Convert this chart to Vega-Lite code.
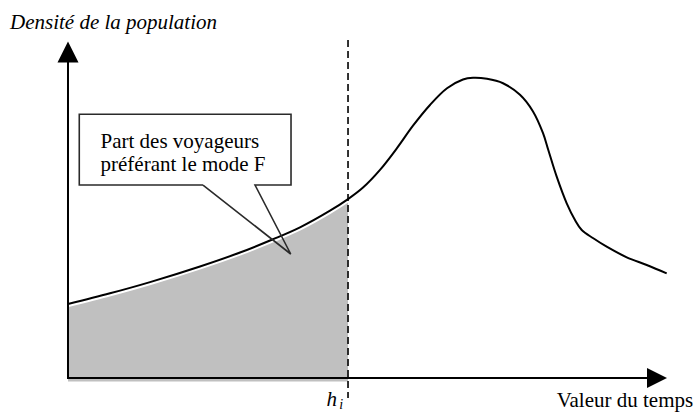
{
  "$schema": "https://vega.github.io/schema/vega-lite/v6.json",
  "width": 697,
  "height": 412,
  "padding": 0,
  "autosize": {"type": "none"},
  "background": "white",
  "config": {"view": {"stroke": null}},
  "datasets": {
    "curve": [
      {"x": 0, "y": 21.76}, {"x": 7, "y": 24.9}, {"x": 13.67, "y": 28.2}, {"x": 22, "y": 32.8},
      {"x": 28.67, "y": 36.9}, {"x": 34.17, "y": 40.8}, {"x": 38.67, "y": 44.3}, {"x": 43.67, "y": 49.2},
      {"x": 46.67, "y": 52.6}, {"x": 49.17, "y": 56.0}, {"x": 52, "y": 61.2}, {"x": 54.83, "y": 67.6},
      {"x": 57.5, "y": 74.2}, {"x": 60.33, "y": 80.3}, {"x": 63.17, "y": 85.2}, {"x": 65.83, "y": 87.8},
      {"x": 67.5, "y": 88.3}, {"x": 69.83, "y": 88.0}, {"x": 72.5, "y": 86.7}, {"x": 75.33, "y": 83.3},
      {"x": 77.5, "y": 78.4}, {"x": 79.17, "y": 72.0}, {"x": 80.05, "y": 67.06}, {"x": 81.45, "y": 59.21},
      {"x": 83.12, "y": 51.38}, {"x": 84.5, "y": 46.47}, {"x": 85.62, "y": 43.53}, {"x": 87.55, "y": 41.09},
      {"x": 89.78, "y": 38.62}, {"x": 93.12, "y": 35.5}, {"x": 96.45, "y": 33.24}, {"x": 99.78, "y": 30.79}
    ],
    "axes": [
      {"x": 0, "y": 0, "x2": 98.17, "y2": 0},
      {"x": 0, "y": -0.3, "x2": 0, "y2": 95.88}
    ],
    "threshold": [
      {"x": 46.67, "y": 99.41, "x2": 46.67, "y2": -5.88}
    ],
    "arrowY": [{"x": 0, "y": 95.88}],
    "arrowX": [{"x": 98.17, "y": 0}],
    "callout": [
      {"o": 1, "x": 22.5, "y": 56.76}, {"o": 2, "x": 1.88, "y": 56.76}, {"o": 3, "x": 1.88, "y": 77.56},
      {"o": 4, "x": 37.17, "y": 77.56}, {"o": 5, "x": 37.17, "y": 56.76}, {"o": 6, "x": 31.17, "y": 56.76},
      {"o": 7, "x": 37.12, "y": 36.47}, {"o": 8, "x": 22.5, "y": 56.76}
    ],
    "labels": [
      {"x": 5.42, "y": 67.65, "text": "Part des voyageurs"},
      {"x": 5.42, "y": 60.97, "text": "préférant le mode F"},
      {"x": 81.45, "y": -8.53, "text": "Valeur du temps"}
    ],
    "italicLabels": [
      {"x": -9.67, "y": 102.65, "text": "Densité de la population"},
      {"x": 43.08, "y": -8.24, "text": "h"}
    ],
    "subLabels": [
      {"x": 45.2, "y": -9.12, "text": "i"}
    ]
  },
  "encoding": {
    "x": {"field": "x", "type": "quantitative", "scale": {"domain": [-11.333, 104.833], "nice": false, "zero": false}, "axis": null},
    "y": {"field": "y", "type": "quantitative", "scale": {"domain": [-10, 111.176], "nice": false, "zero": false}, "axis": null}
  },
  "layer": [
    {
      "data": {"name": "curve"},
      "transform": [{"filter": "datum.x <= 46.67"}],
      "mark": {"type": "area", "color": "#c0c0c0", "interpolate": "catmull-rom", "opacity": 1},
      "encoding": {"y2": {"datum": -1}}
    },
    {
      "data": {"name": "curve"},
      "mark": {"type": "line", "color": "white", "strokeWidth": 6, "interpolate": "catmull-rom"},
      "encoding": {}
    },
    {
      "data": {"name": "curve"},
      "mark": {"type": "line", "color": "black", "strokeWidth": 2, "interpolate": "catmull-rom"},
      "encoding": {}
    },
    {
      "data": {"name": "axes"},
      "mark": {"type": "rule", "color": "black", "strokeWidth": 2},
      "encoding": {"x2": {"field": "x2"}, "y2": {"field": "y2"}}
    },
    {
      "data": {"name": "threshold"},
      "mark": {"type": "rule", "color": "black", "strokeWidth": 1.6, "strokeDash": [7, 4]},
      "encoding": {"x2": {"field": "x2"}, "y2": {"field": "y2"}}
    },
    {
      "data": {"name": "arrowY"},
      "mark": {"type": "point", "shape": "M0,-1L1,1L-1,1Z", "size": 441, "filled": true, "color": "black", "opacity": 1, "strokeWidth": 0}
    },
    {
      "data": {"name": "arrowX"},
      "mark": {"type": "point", "shape": "M1,0L-1,-1L-1,1Z", "size": 400, "filled": true, "color": "black", "opacity": 1, "strokeWidth": 0}
    },
    {
      "data": {"name": "callout"},
      "mark": {"type": "line", "color": "#2a2a2a", "strokeWidth": 1.6, "interpolate": "linear", "strokeJoin": "miter"},
      "encoding": {"order": {"field": "o", "type": "quantitative"}}
    },
    {
      "data": {"name": "labels"},
      "mark": {"type": "text", "font": "Liberation Serif", "fontSize": 21, "align": "left", "baseline": "alphabetic", "color": "black"},
      "encoding": {"text": {"field": "text"}}
    },
    {
      "data": {"name": "italicLabels"},
      "mark": {"type": "text", "font": "Liberation Serif", "fontSize": 21, "fontStyle": "italic", "align": "left", "baseline": "alphabetic", "color": "black"},
      "encoding": {"text": {"field": "text"}}
    },
    {
      "data": {"name": "subLabels"},
      "mark": {"type": "text", "font": "Liberation Serif", "fontSize": 14, "fontStyle": "italic", "align": "left", "baseline": "alphabetic", "color": "black"},
      "encoding": {"text": {"field": "text"}}
    }
  ]
}
